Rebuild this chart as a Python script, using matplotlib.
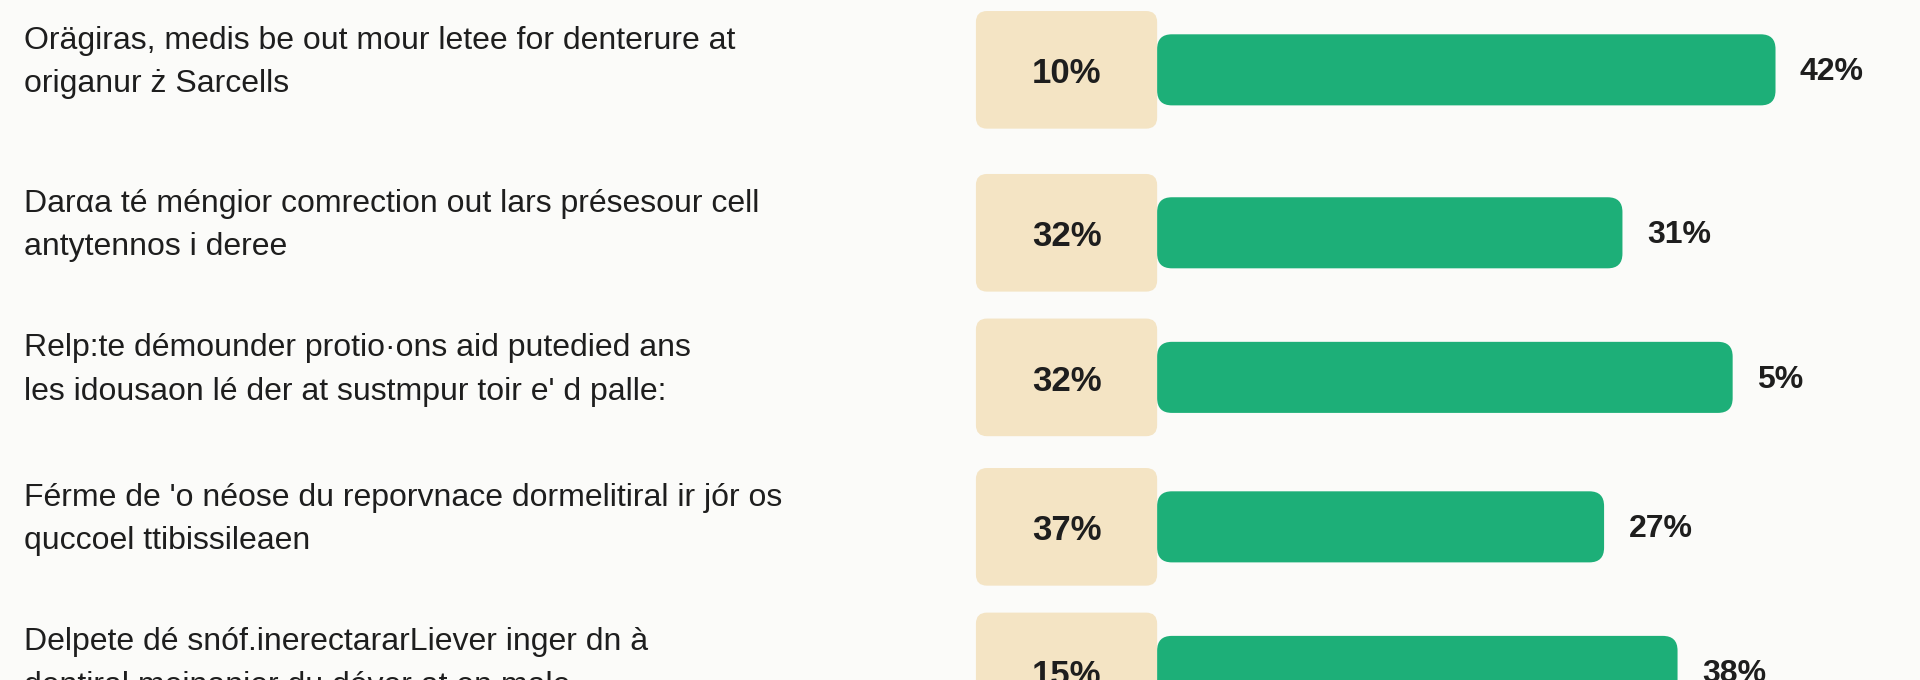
import matplotlib
matplotlib.use("Agg")
import matplotlib.pyplot as plt
from matplotlib.patches import FancyBboxPatch

labels = [
    "Orägiras, medis be out mour letee for denterure at\noriganur ż Sarcells",
    "Darαa té méngior comrection out lars présesour cell\nantytennos i deree",
    "Relp:te démounder protio·ons aid putedied ans\nles idousaon lé der at sustmpur toir e' d palle:",
    "Férme de 'o néose du reporvnace dormelitiral ir jór os\nquccoel ttibissileaen",
    "Delpete dé snóf.inerectararLiever inger dn à\ndentiral meinanier du déver at en male",
]
left_pct = [10, 32, 32, 37, 15]
right_pct = [42, 31, 5, 27, 38]
bar_len = [505, 380, 470, 365, 425]  # visual bar lengths (px units of 1568-wide layout)

W, H = 1568, 555
fig = plt.figure(figsize=(19.2, 6.8), dpi=100)
fig.patch.set_facecolor("#FBFBF9")
ax = fig.add_axes([0, 0, 1, 1])
ax.set_xlim(0, W); ax.set_ylim(H, 0); ax.axis("off")

centers = [57, 190, 308, 430, 548]
bx0, bx1 = 797, 945
for i, yc in enumerate(centers):
    ax.add_patch(FancyBboxPatch((bx0, yc - 48), bx1 - bx0, 96,
                 boxstyle="round,pad=0,rounding_size=9", fc="#F4E4C4", ec="none"))
    ax.add_patch(FancyBboxPatch((bx1, yc - 29), bar_len[i], 58,
                 boxstyle="round,pad=0,rounding_size=12", fc="#1DAF78", ec="none"))
    ax.text(871, yc + 3, f"{left_pct[i]}%", ha="center", va="center",
            fontsize=25, fontweight="bold", color="#1E1E1E", family="Liberation Sans")
    ax.text(bx1 + bar_len[i] + 20, yc + 2, f"{right_pct[i]}%", ha="left", va="center",
            fontsize=23, fontweight="bold", color="#1E1E1E", family="Liberation Sans")
    ax.text(20, yc - 6, labels[i], ha="left", va="center", fontsize=23,
            color="#1E1E1E", linespacing=1.6, family="Liberation Sans")

fig.savefig("out.png", dpi=100, facecolor=fig.get_facecolor())
